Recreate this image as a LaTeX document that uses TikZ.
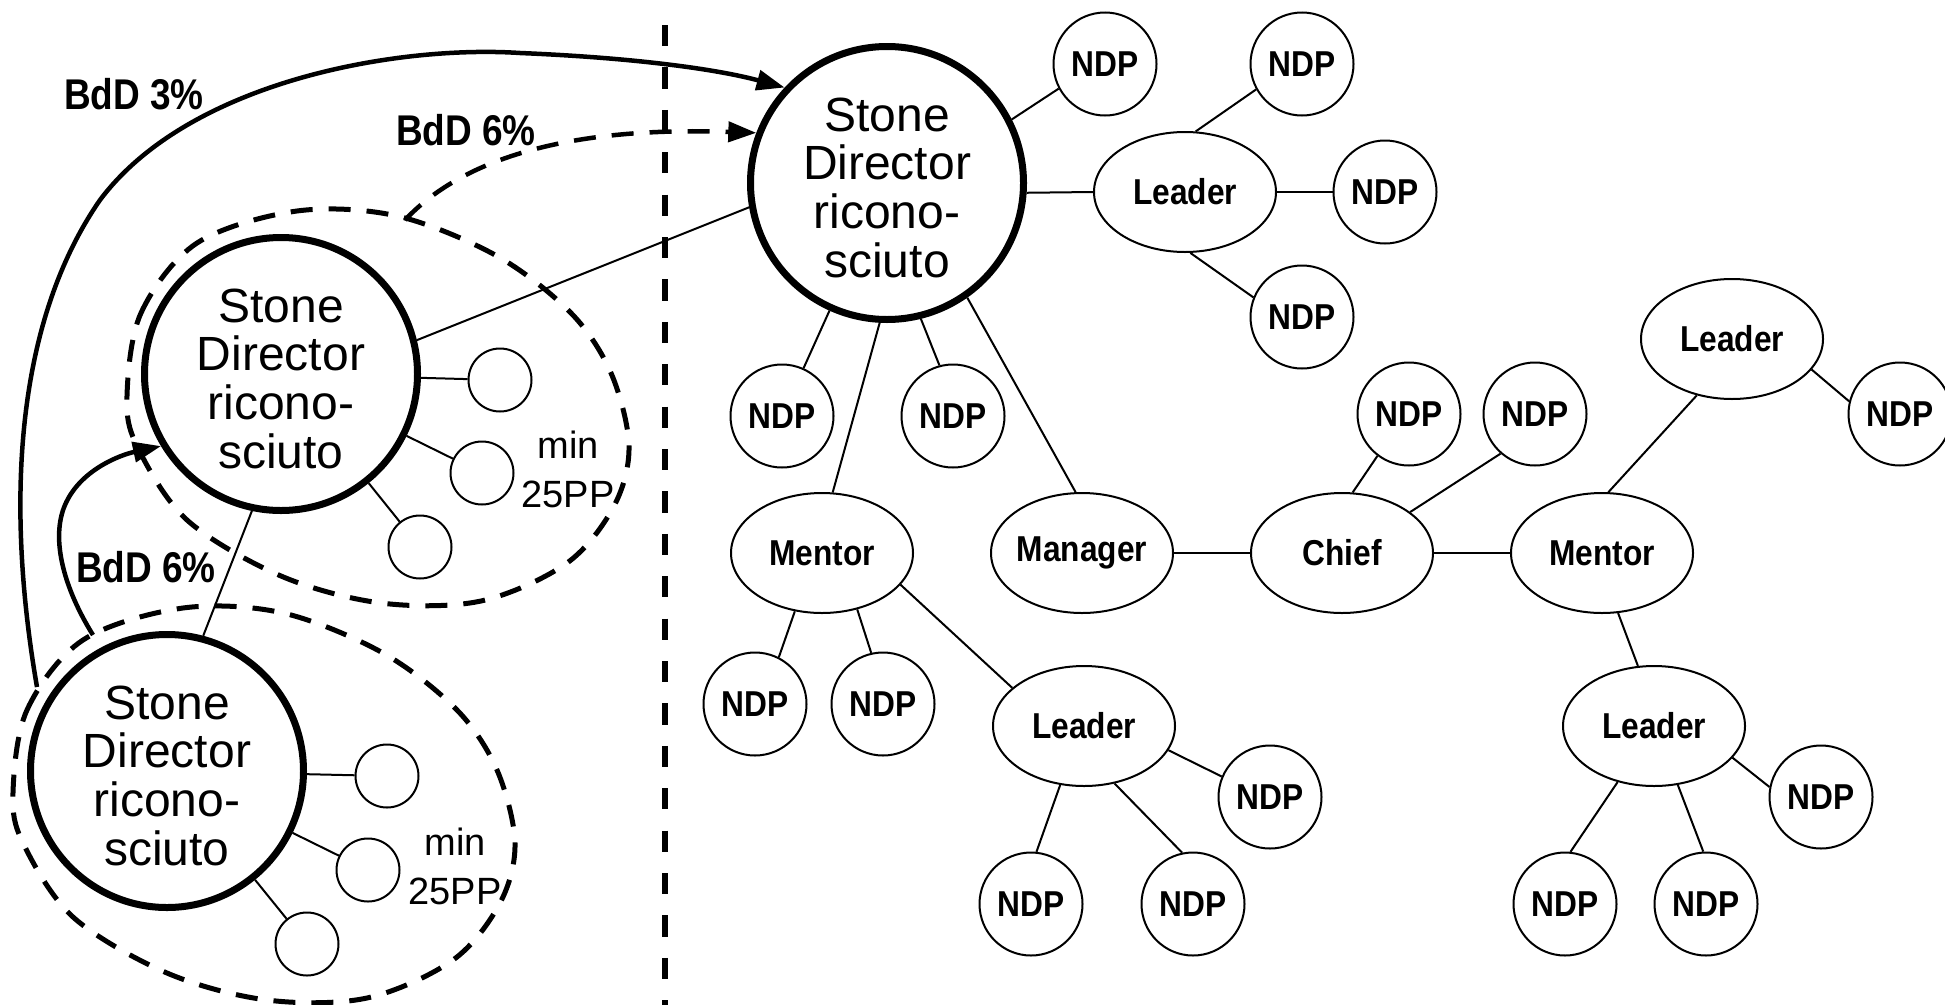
\documentclass[tikz,border=0pt]{standalone}
\usepackage{fontspec}
\setmainfont{Liberation Sans}
\newfontfamily\condbf{Liberation Sans Bold}[FakeStretch=0.88]
\newfontfamily\bddfont{Liberation Sans Bold}[FakeStretch=0.86]
\usetikzlibrary{shapes.geometric,arrows.meta}
\tikzset{
  sdnode/.style={circle,draw,line width=7pt,minimum size=273pt,inner sep=0pt,align=center,font=\fontsize{48}{48.7}\selectfont},
  ndp/.style={circle,draw,line width=2pt,minimum size=103pt,inner sep=0pt,font=\condbf\fontsize{36}{40}\selectfont},
  role/.style={ellipse,draw,line width=2pt,minimum width=182pt,minimum height=120pt,inner xsep=-15pt,inner ysep=0pt,font=\condbf\fontsize{36}{40}\selectfont},
  pp/.style={circle,draw,line width=2pt,minimum size=63pt,inner sep=0pt},
  link/.style={line width=2pt},
  grpline/.style={line width=5pt,dash pattern=on 22pt off 16pt},
  bdd/.style={anchor=base,inner sep=0pt,font=\bddfont\fontsize{43}{45}\selectfont},
  bddarrow/.style={line width=4.5pt,-{Triangle[length=28pt,width=20pt]}},
  mintext/.style={align=center,inner sep=0pt,font=\fontsize{38}{49}\selectfont},
  divider/.style={line width=6pt,dash pattern=on 21.2pt off 21.2pt},
  grouploop/.pic={\draw[grpline] plot[smooth cycle,tension=0.55] coordinates {(-154,22) (-140,-61) (-84,-131) (16,-163) (116,-158) (216,-118) (290,-61) (330,-1) (348,72) (333,132) (286,189) (200,227) (100,229) (0,202) (-94,146) (-144,72)};}
}
\newcommand\sdstrut{\rule{0pt}{43pt}}
\begin{document}
\begin{tikzpicture}[x=1pt,y=-1pt]
\useasboundingbox (0,0) rectangle (1945,1004);

% divider
\coordinate (divtop) at (665,25);
\coordinate (divbot) at (665,1010);
\draw[divider] (divtop) -- (divbot);

% left groups
\pic at (281,374) {grouploop};
\pic at (167,771) {grouploop};

\node[sdnode] (sd1) at (887,183) {\sdstrut Stone\\Director\\ricono-\\sciuto};
\node[sdnode] (sd2) at (281,374) {\sdstrut Stone\\Director\\ricono-\\sciuto};
\node[sdnode] (sd3) at (167,771) {\sdstrut Stone\\Director\\ricono-\\sciuto};

\node[pp] (c1) at (500,380) {};
\node[pp] (c2) at (482,473) {};
\node[pp] (c3) at (420,547) {};
\node[pp] (d1) at (387,776) {};
\node[pp] (d2) at (368,870) {};
\node[pp] (d3) at (307,944) {};

\node[mintext] (min2) at (568,469) {min\\25PP};
\node[mintext] (min3) at (455,866) {min\\25PP};

% right tree
\node[ndp] (na) at (1105,64) {NDP};
\node[ndp] (nb) at (1302,64) {NDP};
\node[role] (l1) at (1185,192) {Leader};
\node[ndp] (nc) at (1385,192) {NDP};
\node[ndp] (nd) at (1302,317) {NDP};
\node[ndp] (ne) at (782,416) {NDP};
\node[ndp] (nf) at (953,416) {NDP};
\node[role] (m1) at (822,553) {Mentor};
\node[role] (mg) at (1082,553) {Manager};
\node[role] (ch) at (1342,553) {Chief};
\node[role] (m2) at (1602,553) {Mentor};
\node[ndp] (nl) at (1409,414) {NDP};
\node[ndp] (nm) at (1535,414) {NDP};
\node[role] (l3) at (1732,339) {Leader};
\node[ndp] (nn) at (1900,414) {NDP};
\node[ndp] (ng) at (755,704) {NDP};
\node[ndp] (nh) at (883,704) {NDP};
\node[role] (l2) at (1084,726) {Leader};
\node[ndp] (ni) at (1270,797) {NDP};
\node[ndp] (nj) at (1031,904) {NDP};
\node[ndp] (nk) at (1193,904) {NDP};
\node[role] (l4) at (1654,726) {Leader};
\node[ndp] (no) at (1821,797) {NDP};
\node[ndp] (np) at (1565,904) {NDP};
\node[ndp] (nq) at (1706,904) {NDP};

% links
\draw[link] (sd1.27.5) -- (na.208);
\draw[link] (sd1.-4) -- (l1.west);
\draw[link] (l1.80.5) -- (nb.209);
\draw[link] (l1) -- (nc);
\draw[link] (l1.-85) -- (nd.158);
\draw[link] (sd1) -- (ne);
\draw[link] (sd1.267.5) -- (m1.80.7);
\draw[link] (sd1.284) -- (nf.105);
\draw[link] (sd1.-55.3) -- (mg.96.5);
\draw[link] (mg) -- (ch);
\draw[link] (ch.80) -- (nl.233);
\draw[link] (ch.31) -- (nm.229.5);
\draw[link] (ch) -- (m2);
\draw[link] (m2.84.5) -- (l3.238);
\draw[link] (l3.-21.6) -- (nn.166.5);
\draw[link] (m2.-75.3) -- (l4.105.6);
\draw[link] (l4.-22.4) -- (no.169);
\draw[link] (l4.237) -- (np.84.7);
\draw[link] (l4.-68.2) -- (nq.93);
\draw[link] (m1.245) -- (ng.63.4);
\draw[link] (m1.-58.4) -- (nh.103);
\draw[link] (m1.-22.4) -- (l2.152);
\draw[link] (l2.-16.8) -- (ni.157.6);
\draw[link] (l2.248.5) -- (nj.84.6);
\draw[link] (l2.-62.3) -- (nk.102);

\draw[link] (sd2.14.7) -- (sd1.190.3);
\draw[link] (sd2.258) -- (sd3.75.5);
\draw[link] (sd2) -- (c1);
\draw[link] (sd2) -- (c2);
\draw[link] (sd2) -- (c3);
\draw[link] (sd3) -- (d1);
\draw[link] (sd3) -- (d2);
\draw[link] (sd3) -- (d3);

% BdD arrows
\coordinate (g2top) at (405,220);
\coordinate (g3a) at (37,687);
\coordinate (g3b) at (93,635);
\draw[bddarrow] (g3a) .. controls (8,520) and (10,330) .. (100,200) .. controls (190,80) and (400,45) .. (520,53) .. controls (640,58) and (720,70) .. (sd1.137);
\draw[bddarrow,dash pattern=on 22pt off 16pt] (g2top) .. controls (480,140) and (620,128) .. (sd1.159);
\draw[bddarrow] (g3b) .. controls (65,590) and (50,540) .. (65,505) .. controls (80,470) and (120,455) .. (sd2.211);

\node[bdd] (t3) at (134,109) {BdD 3\%};
\node[bdd] (t6a) at (466,145) {BdD 6\%};
\node[bdd] (t6b) at (146,582) {BdD 6\%};
\end{tikzpicture}
\end{document}
